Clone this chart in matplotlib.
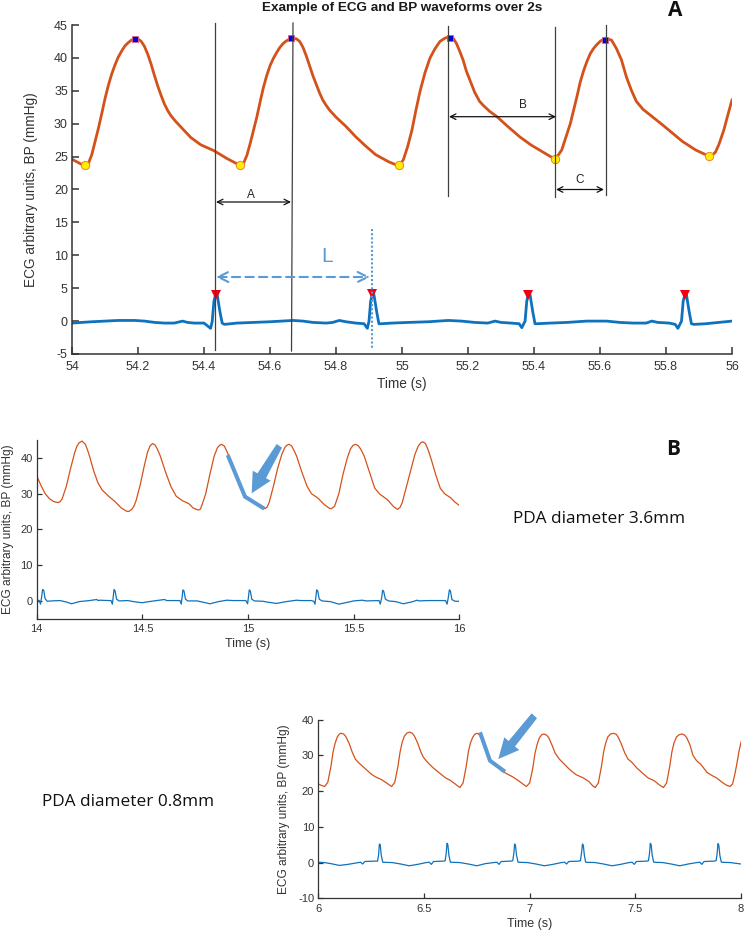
import matplotlib
matplotlib.use('Agg')
import matplotlib.pyplot as plt
from matplotlib.patches import Polygon

plt.rcParams['font.family'] = ['Liberation Sans', 'DejaVu Sans']
plt.rcParams['axes.unicode_minus'] = False

W, H = 744, 931
BP_COL = '#D4521A'
ECG_COL = '#0F72BD'
NOTE_COL = '#5B9BD5'
TXT = '#333333'

# Panel A, 54-56 s
a_bp_t = [54.00, 54.015, 54.03, 54.04, 54.05, 54.06, 54.07, 54.08, 54.09, 54.10, 54.11, 54.12, 54.13, 54.14, 54.15,
          54.16, 54.17, 54.18, 54.19, 54.20, 54.21, 54.22, 54.23, 54.24, 54.25, 54.26, 54.27, 54.28, 54.29, 54.30,
          54.315, 54.33, 54.36, 54.39, 54.43, 54.47, 54.50, 54.51,
          54.52, 54.53, 54.54, 54.55, 54.56, 54.57, 54.58, 54.59, 54.60, 54.61, 54.62, 54.63, 54.64, 54.65, 54.665,
          54.68, 54.69, 54.70, 54.71, 54.72, 54.73, 54.74, 54.75, 54.76, 54.77, 54.78, 54.80, 54.83, 54.86, 54.89,
          54.92, 54.96, 54.98, 54.992,
          55.004, 55.017, 55.03, 55.042, 55.055, 55.07, 55.085, 55.10, 55.115, 55.13, 55.143, 55.155, 55.165, 55.175,
          55.185, 55.195, 55.206, 55.22, 55.235, 55.246, 55.265, 55.287, 55.32, 55.357, 55.39, 55.43, 55.45, 55.463,
          55.473, 55.484, 55.51, 55.53, 55.54, 55.55, 55.56, 55.57, 55.58, 55.59, 55.60, 55.615, 55.635, 55.65, 55.665, 55.68, 55.695, 55.71,
          55.73, 55.74, 55.79, 55.85, 55.89, 55.92, 55.93, 55.94, 55.95, 55.96, 55.975, 55.99, 56.00]
a_bp = [24.6, 24.2, 23.8, 23.7, 24.0, 25.3, 27.3, 29.3, 31.5, 33.8, 35.8, 37.5, 38.9, 40.1, 41.0,
        41.8, 42.3, 42.7, 42.9, 42.9, 42.5, 41.7, 40.5, 39.0, 37.3, 35.7, 34.3, 33.0, 32.0, 31.2,
        30.3, 29.5, 27.9, 26.8, 25.9, 24.7, 23.9, 23.7,
        24.0, 25.2, 27.0, 29.0, 31.0, 33.3, 35.5, 37.3, 38.8, 39.9, 40.8, 41.6, 42.2, 42.6, 43.0,
        42.9, 42.5, 41.6, 40.3, 38.8, 37.3, 36.0, 34.7, 33.6, 32.8, 32.1, 31.0, 29.6, 28.0, 26.6,
        25.3, 24.2, 23.8, 23.7,
        24.5, 26.5, 29.0, 32.0, 35.0, 37.8, 40.0, 41.4, 42.5, 43.0, 43.2, 43.0, 42.2, 41.0,
        39.7, 38.0, 36.6, 34.8, 33.4, 32.8, 31.9, 31.1, 29.6, 28.0, 26.8, 25.6, 25.0, 24.7,
        25.2, 26.0, 30.0, 34.1, 36.3, 38.0, 39.4, 40.6, 41.4, 42.0, 42.5, 43.0, 42.7, 41.4, 39.7, 37.1, 35.1, 33.4,
        32.2, 31.8, 29.8, 27.3, 26.0, 25.3, 25.1, 25.2, 25.7, 26.8, 29.0, 31.8, 33.6]
a_ecg_t = [54.00, 54.03, 54.06, 54.10, 54.14, 54.19, 54.22, 54.25, 54.28, 54.31, 54.335, 54.35, 54.37, 54.40, 54.41,
           54.42, 54.425, 54.43, 54.435, 54.44, 54.448, 54.455, 54.462,
           54.50, 54.55, 54.60, 54.67, 54.70, 54.73, 54.77, 54.79, 54.81, 54.83, 54.86, 54.885, 54.895,
           54.90, 54.905, 54.91, 54.915, 54.923, 54.93, 54.937,
           54.97, 55.02, 55.08, 55.14, 55.18, 55.22, 55.26, 55.282, 55.30, 55.33, 55.355, 55.363,
           55.373, 55.378, 55.383, 55.388, 55.396, 55.403, 55.41,
           55.45, 55.50, 55.56, 55.62, 55.66, 55.70, 55.74, 55.757, 55.775, 55.81, 55.828, 55.836,
           55.847, 55.852, 55.857, 55.862, 55.87, 55.877, 55.885, 55.92, 55.96, 56.00]
a_ecg = [-0.3, -0.2, -0.1, 0.0, 0.1, 0.1, 0.0, -0.2, -0.3, -0.3, 0.0, -0.2, -0.3, -0.3, -0.7,
         -1.1, 0.0, 3.0, 4.0, 4.0, 1.5, -0.3, -0.5,
         -0.3, -0.2, -0.1, 0.1, 0.0, -0.2, -0.3, -0.2, 0.1, -0.1, -0.3, -0.4, -1.1,
         0.0, 3.0, 4.1, 4.0, 1.5, -0.4, -0.4,
         -0.3, -0.2, -0.1, 0.1, 0.0, -0.2, -0.3, 0.0, -0.2, -0.3, -0.4, -1.0,
         0.0, 3.0, 4.1, 4.0, 1.5, -0.4, -0.4,
         -0.3, -0.2, 0.0, 0.0, -0.2, -0.3, -0.3, 0.0, -0.2, -0.3, -0.5, -1.1,
         0.0, 3.0, 4.0, 4.0, 1.5, -0.4, -0.5, -0.4, -0.2, 0.0]
a_peak_t = [54.19, 54.665, 55.145, 55.615]
a_peak = [42.8, 43.0, 43.1, 42.7]
a_min_t = [54.04, 54.51, 54.992, 55.463, 55.93]
a_min = [23.7, 23.7, 23.7, 24.7, 25.1]
a_r_t = [54.435, 54.91, 55.383, 55.857]
a_r = [3.9, 4.1, 4.0, 3.9]

# Panel B, 14-16 s
b_bp_t = [14.00, 14.02, 14.04, 14.06, 14.08, 14.10, 14.11, 14.12, 14.14, 14.16, 14.18, 14.19, 14.20, 14.215, 14.23, 14.24, 14.25, 14.27,
          14.29, 14.31, 14.34, 14.37, 14.40, 14.425, 14.435, 14.45, 14.46, 14.47, 14.49, 14.51, 14.525, 14.537, 14.548, 14.56, 14.57, 14.585, 14.61,
          14.635, 14.66, 14.69, 14.72, 14.74, 14.765, 14.775, 14.785, 14.80, 14.82, 14.84, 14.855, 14.865, 14.875, 14.888, 14.90, 14.91, 14.935,
          14.96, 14.985, 15.01, 15.04, 15.06, 15.08, 15.09, 15.10, 15.12, 15.14, 15.16, 15.175, 15.185, 15.195, 15.207, 15.22, 15.23, 15.255,
          15.28, 15.30, 15.33, 15.36, 15.385, 15.395, 15.41, 15.43, 15.45, 15.47, 15.485, 15.497, 15.51, 15.522, 15.535, 15.55, 15.575, 15.60,
          15.625, 15.66, 15.69, 15.708, 15.72, 15.73, 15.75, 15.77, 15.79, 15.805, 15.817, 15.827, 15.84, 15.852, 15.865, 15.89, 15.91, 15.93,
          15.96, 15.98, 16.00]
b_bp = [35.0, 32.3, 30.0, 28.6, 27.8, 27.5, 27.7, 28.5, 32.0, 37.0, 41.5, 43.2, 44.2, 44.7, 43.8, 42.3, 40.5, 36.3,
        33.0, 31.0, 29.3, 27.8, 26.0, 25.1, 25.0, 25.6, 26.5, 28.0, 32.5, 38.0, 41.7, 43.4, 44.0, 43.6, 42.6, 40.5, 36.0,
        32.0, 29.3, 28.0, 27.2, 26.0, 25.4, 25.7, 27.3, 30.0, 35.5, 40.5, 42.8, 43.5, 43.8, 43.3, 41.8, 40.5, 36.0,
        32.0, 29.5, 28.5, 27.3, 26.3, 25.8, 26.2, 27.5, 32.0, 37.0, 41.0, 43.0, 43.6, 43.8, 43.3, 41.8, 40.5, 36.0,
        32.0, 30.0, 28.8, 27.0, 25.9, 25.8, 26.5, 30.0, 35.5, 40.0, 42.5, 43.5, 43.8, 43.4, 42.3, 40.5, 36.0, 31.5,
        29.8, 28.3, 26.3, 25.6, 26.2, 27.5, 32.0, 36.5, 41.0, 43.2, 44.2, 44.5, 44.0, 42.3, 40.0, 35.0, 31.5, 30.0,
        28.8, 27.6, 26.7]
b_ecg_t = [14.00, 14.012, 14.018, 14.023, 14.028, 14.033, 14.04, 14.05, 14.07, 14.11, 14.14, 14.165, 14.20, 14.25, 14.285,
           14.29, 14.30, 14.34, 14.352, 14.358, 14.362, 14.366, 14.371, 14.378, 14.39, 14.43, 14.47, 14.50, 14.53, 14.58, 14.605,
           14.615, 14.66, 14.678, 14.684, 14.688, 14.692, 14.697, 14.704, 14.715, 14.76, 14.79, 14.82, 14.86, 14.90, 14.93,
           14.99, 14.998, 15.002, 15.006, 15.011, 15.018, 15.03, 15.07, 15.10, 15.135, 15.18, 15.23, 15.25, 15.30, 15.311, 15.317,
           15.321, 15.325, 15.33, 15.337, 15.35, 15.39, 15.43, 15.47, 15.50, 15.54, 15.56, 15.62, 15.626, 15.633, 15.637, 15.642,
           15.65, 15.665, 15.70, 15.735, 15.78, 15.80, 15.81, 15.85, 15.935, 15.942, 15.948, 15.953, 15.958, 15.965, 15.98, 16.00]
b_ecg = [0.3, 0.1, -0.9, 1.0, 3.2, 3.0, 0.6, -0.1, 0.0, 0.1, -0.3, -0.8, -0.2, 0.1, 0.4,
         0.1, 0.2, 0.1, 0.1, -0.9, 1.0, 3.2, 2.8, 0.5, 0.0, 0.1, -0.3, -0.5, -0.2, 0.2, 0.4,
         0.1, 0.1, 0.1, -0.9, 1.0, 3.1, 2.8, 0.5, 0.0, 0.0, -0.4, -0.8, -0.2, 0.2, 0.1,
         0.1, -0.8, 1.0, 3.1, 2.8, 0.5, 0.0, -0.1, -0.4, -0.7, -0.2, 0.2, 0.1, 0.1, -0.1, -0.9,
         1.0, 3.1, 2.8, 0.5, 0.0, -0.2, -0.9, -0.4, 0.0, 0.2, 0.0, 0.1, -0.9, 1.0, 3.0, 2.7,
         0.5, 0.0, -0.2, -0.8, -0.2, 0.2, 0.0, 0.1, 0.1, -0.9, 1.0, 3.1, 2.8, 0.4, -0.1, -0.1]

# Panel C, 6-8 s
c_bp_t = [6.00, 6.015, 6.03, 6.045, 6.06, 6.07, 6.08, 6.09, 6.10, 6.107, 6.12, 6.13, 6.145, 6.16, 6.175, 6.19, 6.22, 6.25, 6.27, 6.30, 6.33, 6.347,
          6.362, 6.377, 6.387, 6.397, 6.407, 6.42, 6.432, 6.445, 6.455, 6.47, 6.485, 6.497, 6.515, 6.544, 6.575, 6.60, 6.625, 6.65, 6.67,
          6.685, 6.70, 6.71, 6.72, 6.73, 6.74, 6.75, 6.76, 6.77, 6.785, 6.80, 6.815, 6.84, 6.87, 6.90, 6.92, 6.95, 6.97, 6.985,
          7.00, 7.015, 7.025, 7.035, 7.045, 7.057, 7.068, 7.08, 7.09, 7.105, 7.12, 7.14, 7.16, 7.19, 7.22, 7.254, 7.28, 7.30, 7.31,
          7.325, 7.34, 7.35, 7.36, 7.37, 7.383, 7.396, 7.41, 7.42, 7.435, 7.45, 7.465, 7.485, 7.507, 7.535, 7.56, 7.59, 7.615, 7.633,
          7.648, 7.663, 7.673, 7.683, 7.695, 7.708, 7.72, 7.733, 7.743, 7.758, 7.773, 7.79, 7.81, 7.84, 7.865, 7.885, 7.91, 7.93, 7.948,
          7.96, 7.97, 7.98, 7.99, 8.00]
c_bp = [22.0, 21.6, 21.3, 22.5, 27.0, 31.0, 33.5, 35.2, 36.0, 36.2, 36.0, 35.3, 33.5, 31.0, 29.0, 28.0, 26.4, 24.8, 24.0, 23.2, 22.0, 21.3,
        22.5, 27.0, 31.0, 33.7, 35.4, 36.3, 36.5, 36.2, 35.4, 33.5, 31.0, 29.5, 28.2, 26.5, 25.0, 23.8, 23.0, 21.9, 21.0,
        22.3, 27.0, 31.0, 33.5, 35.0, 35.9, 36.2, 35.9, 35.0, 32.8, 30.2, 28.5, 27.2, 25.6, 24.6, 24.0, 22.8, 21.9, 21.3,
        22.3, 26.5, 30.5, 33.0, 34.8, 35.8, 36.0, 35.7, 35.0, 33.0, 30.7, 29.0, 27.8, 26.0, 24.6, 23.7, 22.7, 21.4, 21.0,
        22.3, 27.0, 31.0, 33.5, 35.2, 36.0, 36.2, 35.9, 35.0, 33.0, 30.7, 29.0, 28.0, 26.5, 25.0, 23.7, 22.9, 21.7, 21.0,
        22.3, 27.0, 31.0, 33.5, 35.2, 35.8, 36.0, 35.7, 35.0, 33.0, 30.0, 28.5, 27.5, 25.2, 24.3, 23.7, 22.5, 21.7, 21.3,
        22.0, 24.5, 27.5, 31.0, 33.7]
c_ecg_t = [6.00, 6.03, 6.06, 6.10, 6.14, 6.18, 6.20, 6.21, 6.22, 6.26, 6.28, 6.285, 6.289, 6.293, 6.298,
           6.305, 6.35, 6.39, 6.43, 6.47, 6.51, 6.525, 6.535, 6.545, 6.59, 6.60, 6.605, 6.609, 6.613, 6.618,
           6.625, 6.67, 6.71, 6.75, 6.79, 6.83, 6.845, 6.855, 6.865, 6.91, 6.92, 6.925, 6.929, 6.933, 6.938,
           6.945, 6.99, 7.03, 7.07, 7.11, 7.15, 7.165, 7.175, 7.185, 7.23, 7.24, 7.245, 7.25, 7.254, 7.259,
           7.265, 7.31, 7.35, 7.39, 7.43, 7.47, 7.485, 7.495, 7.505, 7.55, 7.562, 7.567, 7.571, 7.575, 7.58,
           7.587, 7.63, 7.67, 7.71, 7.75, 7.79, 7.805, 7.815, 7.825, 7.87, 7.882, 7.887, 7.891, 7.895, 7.90,
           7.907, 7.95, 8.00]
c_ecg = [0.1, 0.0, -0.3, -0.8, -0.5, -0.1, 0.1, -0.4, 0.3, 0.4, 0.4, 2.0, 5.2, 5.0, 2.0,
         0.1, 0.0, -0.4, -0.9, -0.5, 0.0, 0.1, -0.5, 0.3, 0.4, 0.5, 2.5, 5.4, 5.0, 2.0,
         0.1, 0.0, -0.4, -0.9, -0.3, 0.0, 0.1, -0.5, 0.3, 0.4, 0.5, 2.5, 5.2, 4.8, 2.0,
         0.1, 0.0, -0.4, -0.9, -0.5, 0.0, 0.1, -0.4, 0.3, 0.4, 0.5, 2.5, 5.2, 4.8, 2.0,
         0.1, 0.0, -0.4, -0.9, -0.5, 0.0, 0.1, -0.5, 0.3, 0.4, 0.5, 2.5, 5.4, 5.0, 2.0,
         0.1, 0.0, -0.4, -0.9, -0.4, 0.0, 0.1, -0.5, 0.3, 0.4, 0.5, 2.5, 5.3, 4.9, 2.0,
         0.1, 0.0, -0.4]

a_xticks = [54, 54.2, 54.4, 54.6, 54.8, 55, 55.2, 55.4, 55.6, 55.8, 56]
a_xlabels = ['54', '54.2', '54.4', '54.6', '54.8', '55', '55.2', '55.4', '55.6', '55.8', '56']
a_yticks = [-5, 0, 5, 10, 15, 20, 25, 30, 35, 40, 45]
b_xticks = [14, 14.5, 15, 15.5, 16]
b_xlabels = ['14', '14.5', '15', '15.5', '16']
b_yticks = [0, 10, 20, 30, 40]
c_xticks = [6, 6.5, 7, 7.5, 8]
c_xlabels = ['6', '6.5', '7', '7.5', '8']
c_yticks = [-10, 0, 10, 20, 30, 40]


def make_axes(fig, left, right, top, bottom):
    # box given in image pixels
    ax = fig.add_axes([left / W, 1 - bottom / H, (right - left) / W, (bottom - top) / H])
    ax.box_px = (left, right, top, bottom)
    return ax


def style(ax, xlim, ylim, xticks, xlabels, yticks, size, lw, tick_len, pad, lab_size, xlab_top, ylab_right):
    ax.set_xlim(xlim)
    ax.set_ylim(ylim)
    ax.set_xticks(xticks)
    ax.set_xticklabels(xlabels)
    ax.set_yticks(yticks)
    ax.spines['top'].set_visible(False)
    ax.spines['right'].set_visible(False)
    ax.spines['left'].set_linewidth(lw)
    ax.spines['bottom'].set_linewidth(lw)
    ax.spines['left'].set_color(TXT)
    ax.spines['bottom'].set_color(TXT)
    ax.tick_params(direction='in', length=tick_len, width=lw, color=TXT, labelcolor=TXT, labelsize=size)
    ax.tick_params(axis='x', pad=pad)
    ax.tick_params(axis='y', pad=3)
    ax.set_xlabel('Time (s)', fontsize=lab_size, color=TXT)
    ax.set_ylabel('ECG arbitrary units, BP (mmHg)', fontsize=lab_size, color=TXT)
    left, right, top, bottom = ax.box_px
    ax.xaxis.set_label_coords(0.5, -(xlab_top - bottom) / (bottom - top))
    ax.yaxis.set_label_coords((ylab_right - left) / (right - left), 0.5)
    ax.patch.set_alpha(0)


fig = plt.figure(figsize=(W / 100, H / 100), dpi=100)

# A
ax1 = make_axes(fig, 72, 732, 25, 354)
ax1.plot(a_bp_t, a_bp, color=BP_COL, lw=2.0)
ax1.plot(a_ecg_t, a_ecg, color=ECG_COL, lw=2.0)
ax1.plot(a_peak_t, a_peak, 's', ms=5, mfc='#0000E6', mec='#E0607A', mew=0.6)
ax1.plot(a_min_t, a_min, 'o', ms=6, mfc='#FFEE00', mec='#F08030', mew=0.7)
ax1.plot(a_r_t, a_r, 'v', ms=7, color='#F00010', mew=0)
style(ax1, (54, 56), (-5, 45), a_xticks, a_xlabels, a_yticks, 9, 1.1, 5, 5, 9.8, 377, 38)
ax1.set_title('Example of ECG and BP waveforms over 2s', fontsize=9.7, fontweight='bold', color='#1a1a1a', pad=10)

# B
ax2 = make_axes(fig, 36.7, 459.3, 440, 618.8)
ax2.plot(b_bp_t, b_bp, color=BP_COL, lw=0.9)
ax2.plot(b_ecg_t, b_ecg, color=ECG_COL, lw=0.9)
style(ax2, (14, 16), (-5, 45), b_xticks, b_xlabels, b_yticks, 8, 0.9, 3.6, 4, 9, 638, 14)

# C
ax3 = make_axes(fig, 318.3, 741, 719.7, 898.3)
ax3.plot(c_bp_t, c_bp, color=BP_COL, lw=0.9)
ax3.plot(c_ecg_t, c_ecg, color=ECG_COL, lw=0.9)
style(ax3, (6, 8), (-10, 40), c_xticks, c_xlabels, c_yticks, 8, 0.9, 3.6, 4, 9, 918, 290.5)
ax3.yaxis.label.set_size(8.6)
ax2.yaxis.label.set_size(8.6)

# annotation layer in image pixels
ov = fig.add_axes([0, 0, 1, 1])
ov.set_xlim(0, W)
ov.set_ylim(H, 0)
ov.axis('off')

for x0, y0, x1, y1 in [(215, 23, 215, 350), (293, 23, 291.5, 351), (448, 26, 448, 196),
                       (555.3, 27, 555.3, 197), (606, 25, 606, 195)]:
    ov.plot([x0, x1], [y0, y1], color='#404040', lw=0.9)


def arrow(x0, x1, y, col='#111111', ls='-', lw=0.9, scale=10):
    ov.annotate('', xy=(x1, y), xytext=(x0, y),
                arrowprops=dict(arrowstyle='<->', color=col, lw=lw, linestyle=ls,
                                mutation_scale=scale, shrinkA=0, shrinkB=0))


arrow(216, 291, 202)
arrow(449, 556, 116.7)
arrow(556, 604, 189.5)
ov.text(251, 195, 'A', ha='center', va='center', fontsize=8.5, color='#222222')
ov.text(522.7, 105, 'B', ha='center', va='center', fontsize=8.5, color='#222222')
ov.text(580, 180, 'C', ha='center', va='center', fontsize=8.5, color='#222222')

arrow(216, 370, 277, col=NOTE_COL, ls=(0, (4, 2.5)), lw=1.5, scale=18)
ov.plot([372, 372], [229, 348], color=NOTE_COL, lw=1.5, ls=(0, (1, 1)))
ov.text(327, 257, 'L', ha='center', va='center', fontsize=15, color=NOTE_COL)

ov.text(675, 16, 'A', ha='center', va='baseline', fontsize=15, fontweight='bold', color='#111111', family='Open Sans')
ov.text(672.7, 455, 'B', ha='center', va='baseline', fontsize=15, fontweight='bold', color='#111111', family='Open Sans')
ov.text(599.5, 519, 'PDA diameter 3.6mm', ha='center', va='center', fontsize=12.4, color='#111111', family='Open Sans')
ov.text(128, 802, 'PDA diameter 0.8mm', ha='center', va='center', fontsize=12.4, color='#111111', family='Open Sans')

# thick slope marks and block arrows
ov.plot([227.7, 245, 264.3], [455, 496.7, 508.7], color=NOTE_COL, lw=2.9, solid_joinstyle='miter', solid_capstyle='butt')
ov.plot([480, 490, 505], [732.3, 760.7, 771.7], color=NOTE_COL, lw=2.9, solid_joinstyle='miter', solid_capstyle='butt')
ov.add_patch(Polygon([(276.7, 444), (282, 447.7), (266, 478.2), (270.7, 480.7), (251.7, 493.3), (252.7, 470.7), (257.5, 473.3)],
                     closed=True, fc=NOTE_COL, ec='none'))
ov.add_patch(Polygon([(531.7, 713.3), (537, 718.3), (515, 746.5), (519.3, 750), (498.3, 759), (504.3, 737.3), (508.6, 741)],
                     closed=True, fc=NOTE_COL, ec='none'))

fig.savefig('out.png', dpi=100)
